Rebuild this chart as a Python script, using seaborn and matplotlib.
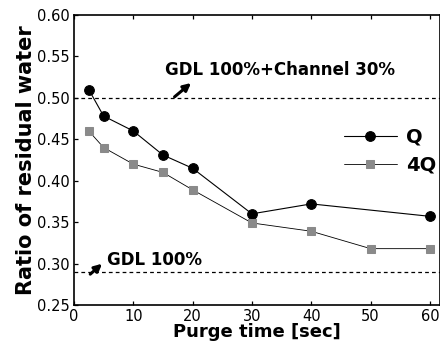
import matplotlib
matplotlib.use("Agg")
import matplotlib.pyplot as plt
import seaborn as sns
import pandas as pd

q_time = [2.5, 5, 10, 15, 20, 30, 40, 60]
q_ratio = [0.510, 0.478, 0.460, 0.431, 0.415, 0.360, 0.372, 0.357]
q4_time = [2.5, 5, 10, 15, 20, 30, 40, 50, 60]
q4_ratio = [0.460, 0.440, 0.420, 0.410, 0.389, 0.349, 0.339, 0.318, 0.318]
ref_levels = [0.50, 0.29]
ref_labels = ["GDL 100%+Channel 30%", "GDL 100%"]
xticks = [0, 10, 20, 30, 40, 50, 60]
yticks = [0.25, 0.30, 0.35, 0.40, 0.45, 0.50, 0.55, 0.60]

sns.set_style("ticks")
plt.rcParams['font.family'] = ['DejaVu Sans']
for k in ["text.color", "axes.labelcolor", "xtick.color", "ytick.color",
          "axes.edgecolor"]:
    plt.rcParams[k] = "black"

df_q = pd.DataFrame({"t": q_time, "r": q_ratio})
df_4q = pd.DataFrame({"t": q4_time, "r": q4_ratio})

fig = plt.figure(figsize=(4.4, 3.47), dpi=100)
ax = fig.add_axes([0.168, 0.121, 0.832, 0.836])

sns.lineplot(data=df_q, x="t", y="r", ax=ax, color="black", lw=0.8,
             marker="o", markersize=7, markeredgecolor="black", label="Q")
sns.lineplot(data=df_4q, x="t", y="r", ax=ax, color="black", lw=0.6,
             marker="s", markersize=5.5, markerfacecolor="#8a8a8a",
             markeredgecolor="#8a8a8a", label="4Q")

for lvl in ref_levels:
    ax.axhline(lvl, color="black", lw=0.9, ls=(0, (3, 2.5)))

ax.text(15.3, 0.534, ref_labels[0], fontsize=12, fontweight="bold",
        ha="left", va="center")
ax.annotate("", xy=(20.1, 0.520), xytext=(16.6, 0.499),
            arrowprops=dict(arrowstyle="-|>", color="black", lw=2.2,
                            mutation_scale=11))
ax.text(5.6, 0.304, ref_labels[1], fontsize=12, fontweight="bold",
        ha="left", va="center")
ax.annotate("", xy=(5.1, 0.302), xytext=(2.4, 0.285),
            arrowprops=dict(arrowstyle="-|>", color="black", lw=2.2,
                            mutation_scale=11))

ax.set_xlim(0, 61.7)
ax.set_ylim(0.25, 0.60)
ax.set_xticks(xticks)
ax.set_yticks(yticks)
ax.set_yticklabels([f"{v:.2f}" for v in yticks])
ax.tick_params(direction="in", labelsize=10.5, top=True, length=3, width=0.9,
               pad=3)
for s in ax.spines.values():
    s.set_linewidth(1.2)

ax.set_xlabel("Purge time [sec]", fontsize=13, fontweight="bold", labelpad=-1)
ax.set_ylabel("Ratio of residual water", fontsize=15, fontweight="bold", labelpad=1)

leg = ax.legend(loc="center left", bbox_to_anchor=(0.69, 0.53), frameon=False,
                fontsize=14, handlelength=2.7, handletextpad=0.5,
                labelspacing=0.45)
for t in leg.get_texts():
    t.set_fontweight("bold")

fig.savefig("out.png", dpi=100)
